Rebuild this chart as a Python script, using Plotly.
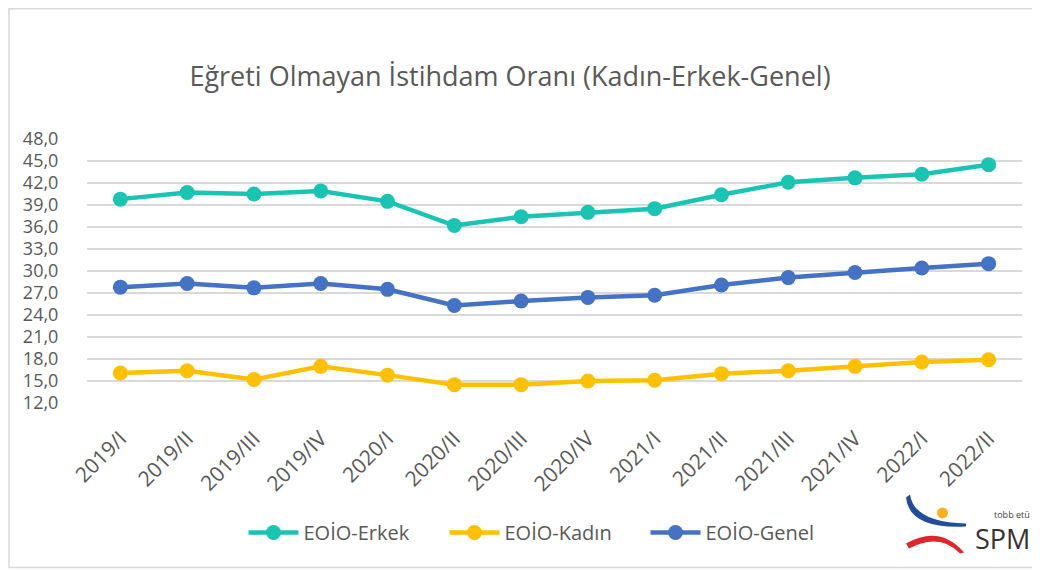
import plotly.graph_objects as go

categories = ["2019/I", "2019/II", "2019/III", "2019/IV", "2020/I", "2020/II", "2020/III",
              "2020/IV", "2021/I", "2021/II", "2021/III", "2021/IV", "2022/I", "2022/II"]
erkek = [39.8, 40.7, 40.5, 40.9, 39.5, 36.2, 37.4, 38.0, 38.5, 40.4, 42.1, 42.7, 43.2, 44.5]
kadin = [16.1, 16.4, 15.2, 17.0, 15.8, 14.5, 14.5, 15.0, 15.1, 16.0, 16.4, 17.0, 17.6, 17.9]
genel = [27.8, 28.3, 27.7, 28.3, 27.5, 25.3, 25.9, 26.4, 26.7, 28.1, 29.1, 29.8, 30.4, 31.0]
series_names = ["EOİO-Erkek", "EOİO-Kadın", "EOİO-Genel"]
y_ticks = [12, 15, 18, 21, 24, 27, 30, 33, 36, 39, 42, 45, 48]
title_text = "Eğreti Olmayan İstihdam Oranı (Kadın-Erkek-Genel)"

# the page body adds an 8px margin; target coordinates below are screenshot pixels
OFF = 8
W, H = 1040 - OFF, 570 - OFF
PLOT_L, PLOT_R, PLOT_T, PLOT_B = 87, 1022, 139, 402.7
L, R, T, B = PLOT_L - OFF, (1040 - OFF) - (PLOT_R - OFF), PLOT_T - OFF, H - (PLOT_B - OFF)
PW, PH = PLOT_R - PLOT_L, PLOT_B - PLOT_T

def px(x):
    return (x - PLOT_L) / PW

def py(y):
    return (PLOT_B - y) / PH

FONT = "Open Sans, sans-serif"
colors = ["#19C4B3", "#FFC000", "#4472C4"]

fig = go.Figure()
for name, vals, c in zip(series_names, [erkek, kadin, genel], colors):
    fig.add_trace(go.Scatter(
        x=categories, y=vals, name=name, mode="lines+markers",
        line=dict(color=c, width=4.5),
        marker=dict(color=c, size=15),
    ))

shapes = [
    dict(type="rect", xref="paper", yref="paper", x0=px(9), x1=px(1050), y0=py(567), y1=py(9),
         line=dict(color="#D9D9D9", width=1.5), fillcolor="rgba(0,0,0,0)", layer="below"),
    # logo: blue arc (top-left down and to the right)
    dict(type="path", xref="paper", yref="paper",
         path=(f"M {px(910)},{py(494)} Q {px(914)},{py(522)} {px(966)},{py(523)} "
               f"L {px(966)},{py(526)} Q {px(909)},{py(529)} {px(906)},{py(497)} Z"),
         fillcolor="#1F4E9A", line=dict(width=0)),
    # red arc (bracket shape)
    dict(type="path", xref="paper", yref="paper",
         path=(f"M {px(906)},{py(543)} Q {px(940)},{py(524)} {px(964)},{py(552)} "
               f"L {px(960)},{py(553)} Q {px(940)},{py(532)} {px(909)},{py(548)} Z"),
         fillcolor="#E0262B", line=dict(width=0)),
    dict(type="circle", xref="paper", yref="paper", x0=px(937), x1=px(948), y0=py(518), y1=py(507),
         fillcolor="#F9B21B", line=dict(width=0)),
]

annotations = [
    dict(text="tobb etü", x=px(1012), y=py(514), xref="paper", yref="paper", showarrow=False,
         xanchor="center", yanchor="middle",
         font=dict(size=9, color="#404040", family=FONT)),
    dict(text="SPM", x=px(1002), y=py(538), xref="paper", yref="paper", showarrow=False,
         xanchor="center", yanchor="middle",
         font=dict(size=27, color="#333333", family=FONT)),
]

fig.update_layout(
    width=W, height=H,
    margin=dict(l=L, r=R, t=T, b=B, autoexpand=False),
    paper_bgcolor="white", plot_bgcolor="white",
    title=dict(text=title_text, xref="container", yref="container",
               x=(510 - OFF) / W, xanchor="center", y=1 - (77 - OFF) / H, yanchor="middle",
               font=dict(size=27, color="#595959", family=FONT)),
    xaxis=dict(type="category", range=[-0.5, 13.5], showgrid=False, showline=False,
               ticks="outside", ticklen=14, tickcolor="rgba(0,0,0,0)", automargin=False,
               tickangle=-45, tickfont=dict(size=21, color="#595959", family=FONT)),
    yaxis=dict(range=[12, 48], tickvals=y_ticks, ticktext=[f"{v},0" for v in y_ticks],
               showgrid=True, gridcolor="#D9D9D9", gridwidth=1.5, zeroline=False, showline=False,
               ticks="outside", ticklen=24, tickcolor="rgba(0,0,0,0)", automargin=False,
               tickfont=dict(size=18, color="#595959", family=FONT)),
    legend=dict(orientation="h", x=px(545), xanchor="center", y=py(532), yanchor="middle",
                font=dict(size=20, color="#595959", family=FONT), itemwidth=50,
                entrywidth=136, entrywidthmode="pixels",
                bgcolor="rgba(0,0,0,0)"),
    shapes=shapes, annotations=annotations,
)

fig.write_html("out.html")
